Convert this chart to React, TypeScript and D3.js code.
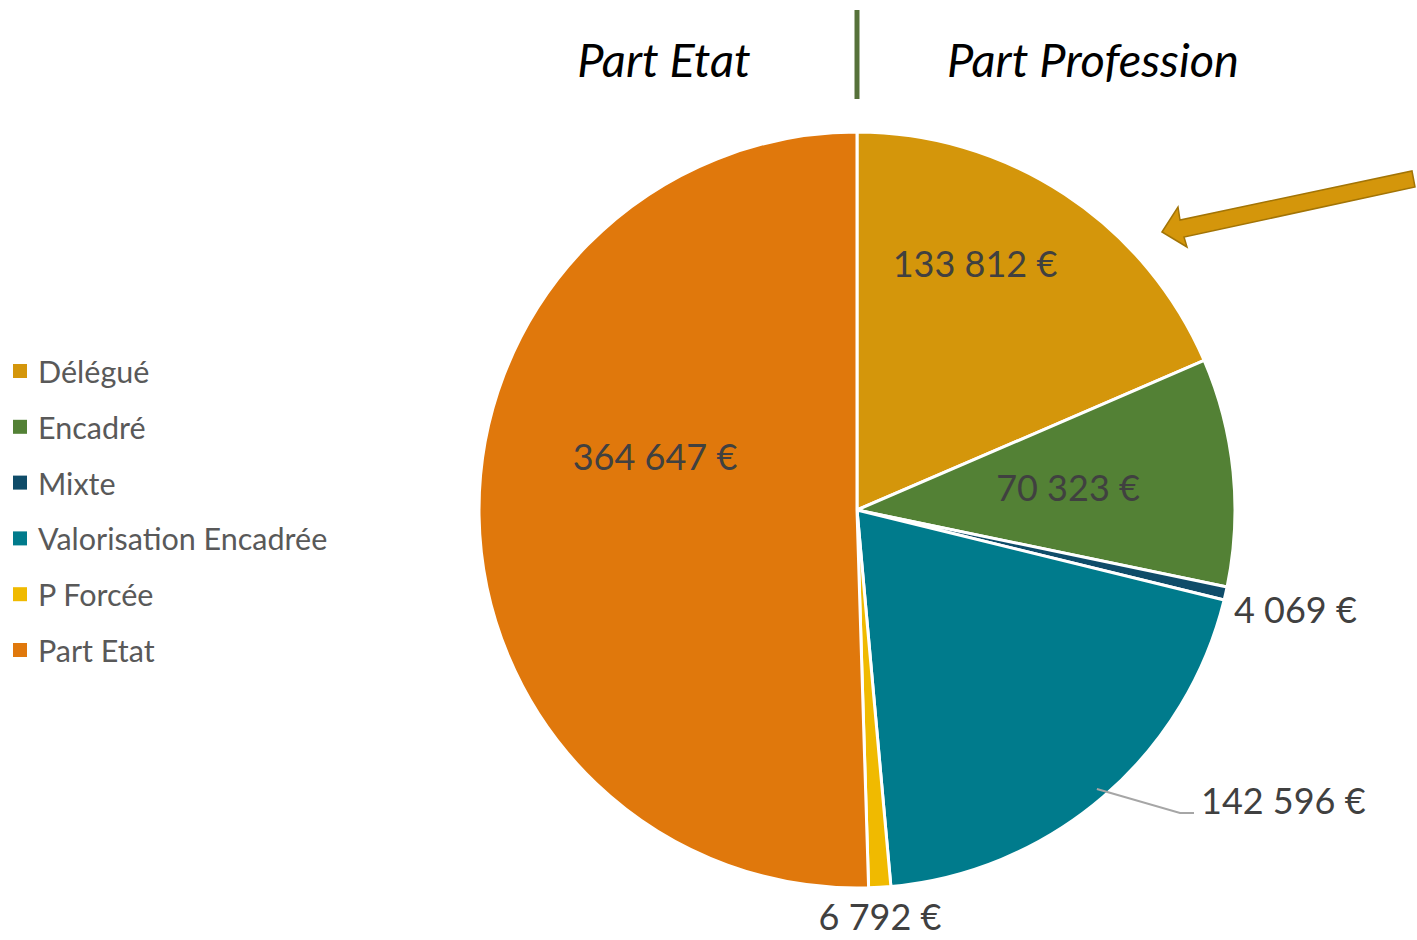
import React from "react";
import * as d3 from "d3";

const categories = ["Délégué", "Encadré", "Mixte", "Valorisation Encadrée", "P Forcée", "Part Etat"];
const values = [133812, 70323, 4069, 142596, 6792, 364647];
const valueLabels = ["133 812 €", "70 323 €", "4 069 €", "142 596 €", "6 792 €", "364 647 €"];
const colors = ["#D4960B", "#538135", "#0F4C69", "#007B8C", "#F0BA00", "#E0780C"];

const W = 1417, H = 940;
const cx = 857, cy = 510, R = 378;
const FONT = "Lato, 'Source Sans Pro', 'Noto Sans', sans-serif";

export default function App() {
  const pie = d3.pie<number>().sort(null).value((d) => d)(values);
  const arc = d3.arc<d3.PieArcDatum<number>>().innerRadius(0).outerRadius(R);

  // label positions (as in the reference layout)
  const labels = [
    { x: 975, y: 263 },
    { x: 1068, y: 487 },
    { x: 1234, y: 609 },
    { x: 1201, y: 800 },
    { x: 880, y: 916 },
    { x: 655, y: 456 },
  ];

  // leader line for Valorisation Encadrée
  const vc = d3.arc<d3.PieArcDatum<number>>().innerRadius(R - 10).outerRadius(R - 10).centroid(pie[3]);

  return (
    <svg width={W} height={H} viewBox={`0 0 ${W} ${H}`} style={{ position: "absolute", left: 0, top: 0, background: "#fff" }}>
      <text x={664} y={77} textAnchor="middle" fontFamily={FONT} fontStyle="italic" fontSize={47} fill="#000">Part Etat</text>
      <text x={1093} y={77} textAnchor="middle" fontFamily={FONT} fontStyle="italic" fontSize={47} fill="#000">Part Profession</text>
      <line x1={857} x2={857} y1={10} y2={99} stroke="#56713A" strokeWidth={5} />

      <g transform={`translate(${cx},${cy})`}>
        {pie.map((p, i) => (
          <path key={i} d={arc(p) || ""} fill={colors[i]} stroke="#fff" strokeWidth={3} strokeLinejoin="round" />
        ))}
      </g>

      <polyline
        points={`${cx + vc[0]},${cy + vc[1]} 1180,813 1194,813`}
        fill="none" stroke="#A6A6A6" strokeWidth={2}
      />

      {labels.map((l, i) => (
        <text key={i} x={l.x} y={l.y} textAnchor={i === 2 || i === 3 ? "start" : "middle"} dominantBaseline="central"
          fontFamily={FONT} fontSize={36} fill="#404040">{valueLabels[i]}</text>
      ))}

      <polygon
        points="1162,232 1178,207 1180,220 1412,171 1415,187 1184,237 1187,247"
        fill="#D4960B" stroke="#A27406" strokeWidth={1.5} strokeLinejoin="miter"
      />

      {categories.map((c, i) => (
        <g key={c} transform={`translate(0,${371 + i * 55.8})`}>
          <rect x={13} y={-7} width={14} height={14} fill={colors[i]} />
          <text x={38} y={0} dominantBaseline="central" fontFamily={FONT} fontSize={30.5} fill="#595959">{c}</text>
        </g>
      ))}
    </svg>
  );
}
